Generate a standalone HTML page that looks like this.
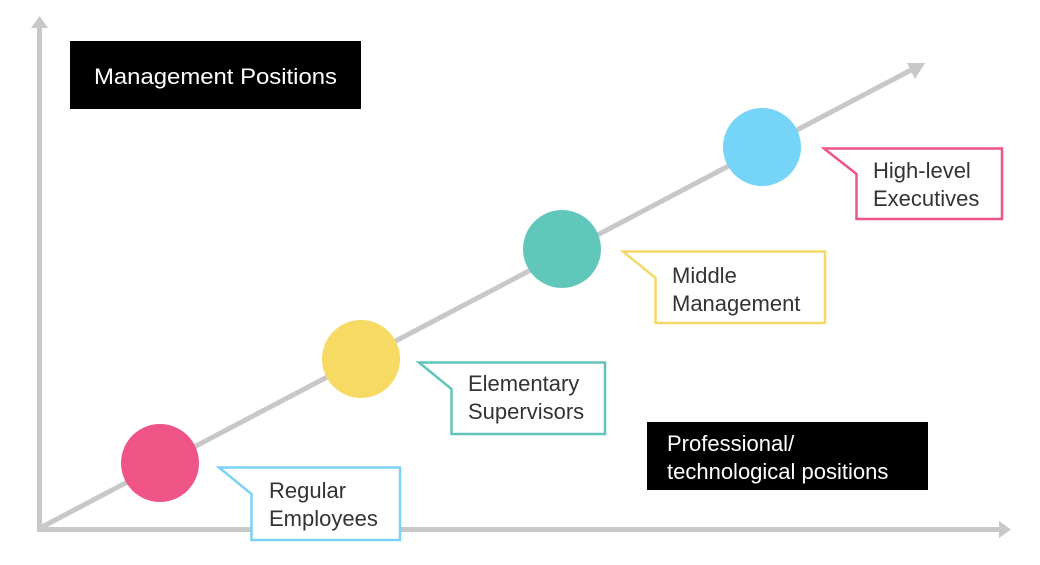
<!DOCTYPE html>
<html><head><meta charset="utf-8"><style>
html,body{margin:0;padding:0;background:#fff;}
svg{display:block;}
text{font-family:"Liberation Sans",sans-serif;font-size:22px;fill:#333;}
</style></head><body>
<svg width="1040" height="565" viewBox="0 0 1040 565" xmlns="http://www.w3.org/2000/svg">
<g stroke="#c8c8c8" stroke-width="5" fill="none">
<line x1="39.5" y1="26" x2="39.5" y2="530"/>
<line x1="37" y1="529.5" x2="1000" y2="529.5"/>
<line x1="40" y1="528" x2="913" y2="69"/>
</g>
<g fill="#c8c8c8">
<polygon points="39.5,16 31,28 48,28"/>
<polygon points="1011,529.5 999,521 999,538"/>
<polygon points="925,63 907,63 915,79"/>
</g>
<circle cx="160" cy="463" r="39" fill="#ef5486"/>
<circle cx="361" cy="359" r="39" fill="#f7da64"/>
<circle cx="562" cy="249" r="39" fill="#61c7bb"/>
<circle cx="762" cy="147" r="39" fill="#75d4f7"/>
<g fill="#fff" stroke-width="2.5">
<polygon stroke="#7ad3f5" points="219,467.5 400,467.5 400,540 251.5,540 251.5,494 "/>
<polygon stroke="#62c4b8" points="419,362.5 605,362.5 605,434 451.5,434 451.5,389"/>
<polygon stroke="#f5d968" points="623,251.5 825,251.5 825,323 655.5,323 655.5,278"/>
<polygon stroke="#ec5584" points="824,148.5 1002,148.5 1002,219 856.5,219 856.5,174"/>
</g>
<rect x="70" y="41" width="291" height="68" fill="#000"/>
<rect x="647" y="422" width="281" height="68" fill="#000"/>
<text x="94" y="84" style="fill:#fff" textLength="243" lengthAdjust="spacingAndGlyphs">Management Positions</text>
<text x="667" y="451" style="fill:#fff">Professional/</text>
<text x="667" y="479" style="fill:#fff">technological positions</text>
<text x="269" y="498">Regular</text>
<text x="269" y="526">Employees</text>
<text x="468" y="391">Elementary</text>
<text x="468" y="419">Supervisors</text>
<text x="672" y="283">Middle</text>
<text x="672" y="311">Management</text>
<text x="873" y="178">High-level</text>
<text x="873" y="206">Executives</text>
</svg>
</body></html>
